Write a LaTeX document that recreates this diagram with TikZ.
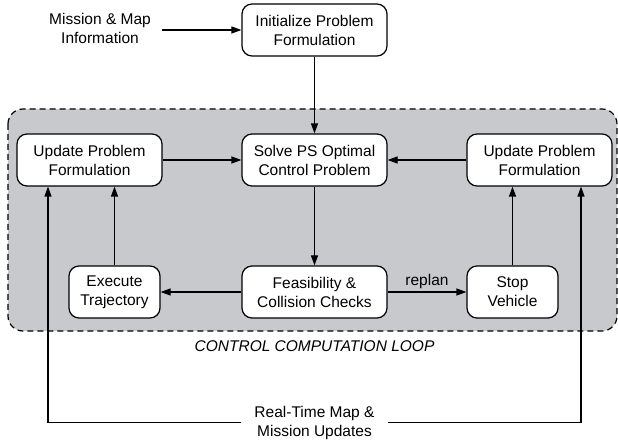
\documentclass[tikz,border=0pt]{standalone}
\usepackage{fontspec}
\setmainfont{Liberation Sans}
\usetikzlibrary{arrows.meta}
\definecolor{loopgray}{RGB}{200,201,204}
\begin{document}
\begin{tikzpicture}[x=1pt,y=-1pt,
  font=\fontsize{15.5}{19}\selectfont,
  box/.style={draw, line width=1.2pt, rounded corners=10pt, fill=white, align=center, inner sep=0pt, minimum height=52pt},
  wbox/.style={box, minimum width=145pt},
  nbox/.style={box, minimum width=91pt},
  txt/.style={align=center, inner sep=0pt},
  arr/.style={line width=1.2pt, -{Triangle[length=10pt,width=7pt]}},
  ln/.style={line width=1.2pt}]
\useasboundingbox (0,0) rectangle (618,443);
\draw[fill=loopgray, line width=1.2pt, dash pattern=on 6pt off 4pt, rounded corners=15pt] (8,109) rectangle (617,331);

\node[txt] (mission) at (100,28.5) {Mission \& Map\\Information};
\coordinate (ms) at (162,30);
\node[wbox] (init) at (314.5,30) {Initialize Problem\\Formulation};
\node[wbox] (solve) at (314.5,160) {Solve PS Optimal\\Control Problem};
\node[wbox] (updl) at (89.5,160) {Update Problem\\Formulation};
\node[wbox] (updr) at (539.5,160) {Update Problem\\Formulation};
\node[nbox] (exec) at (114.5,292) {Execute\\Trajectory};
\node[wbox] (feas) at (314.5,292) {Feasibility \&\\Collision Checks};
\node[nbox] (stop) at (512.5,292) {Stop\\Vehicle};
\node[txt, font=\fontsize{15.5}{19}\selectfont\itshape] (loop) at (314.5,346) {CONTROL COMPUTATION LOOP};
\node[txt, minimum width=146pt] (rt) at (314.5,422.5) {Real-Time Map \&\\Mission Updates};

\draw[arr] (ms) -- (init.west);
\draw[arr] (init) -- (solve);
\draw[arr] (updl) -- (solve);
\draw[arr] (updr) -- (solve);
\draw[arr] (solve) -- (feas);
\draw[arr] (feas) -- (exec);
\draw[arr] (feas) -- node[midway, above=3pt, inner sep=0pt] {replan} (stop);
\draw[arr] (exec.north) -- (exec.north |- updl.south);
\draw[arr] (stop.north) -- (stop.north |- updr.south);
\draw[arr] (rt.west) -| ([xshift=-41.5pt]updl.south);
\draw[arr] (rt.east) -| ([xshift=41.5pt]updr.south);
\end{tikzpicture}
\end{document}
